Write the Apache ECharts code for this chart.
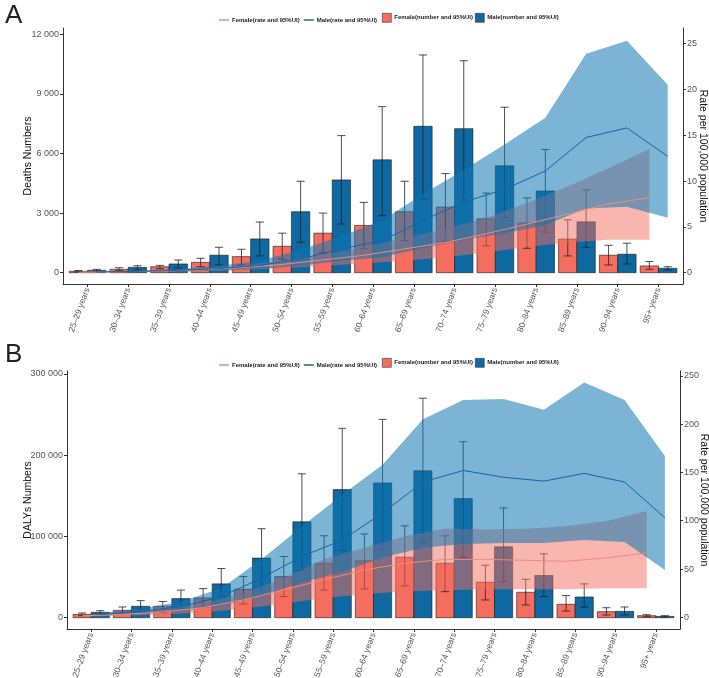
<!DOCTYPE html>
<html>
<head>
<meta charset="utf-8">
<script src="https://cdn.jsdelivr.net/npm/echarts@6/dist/echarts.min.js"></script>
<style>
  html, body { margin: 0; padding: 0; background: #fff; }
  #chart { width: 709px; height: 678px; }
</style>
</head>
<body>
<div id="chart"></div>
<script>
// age groups (x categories)
const ages = ['25–29 years', '30–34 years', '35–39 years', '40–44 years', '45–49 years',
  '50–54 years', '55–59 years', '60–64 years', '65–69 years', '70–74 years',
  '75–79 years', '80–84 years', '85–89 years', '90–94 years', '95+ years'];

// panel A: deaths numbers with 95% UI
const deathsF   = [70, 170, 300, 520, 810, 1330, 1990, 2380, 3070, 3300, 2715, 2500, 1690, 880, 340];
const deathsFLo = [40, 100, 200, 300, 390, 675, 980, 1210, 1620, 1585, 1350, 1230, 845, 390, 170];
const deathsFHi = [110, 250, 370, 725, 1180, 1990, 3000, 3540, 4600, 4990, 4010, 3760, 2660, 1380, 560];
const deathsM   = [120, 270, 440, 880, 1700, 3070, 4670, 5680, 7370, 7250, 5380, 4115, 2560, 930, 220];
const deathsMLo = [70, 135, 235, 390, 845, 1535, 2450, 2870, 3710, 3660, 2780, 2040, 1280, 440, 135];
const deathsMHi = [170, 350, 640, 1280, 2550, 4600, 6900, 8360, 10960, 10670, 8330, 6200, 4165, 1485, 300];

// panel A: death rate per 100,000 with 95% UI
const deathRateF   = [0.05, 0.1, 0.17, 0.3, 0.55, 0.9, 1.4, 1.9, 2.6, 3.3, 4.25, 5.3, 6.4, 7.5, 8.2];
const deathRateFLo = [0.03, 0.06, 0.1, 0.17, 0.3, 0.5, 0.75, 1.0, 1.3, 1.7, 2.2, 2.8, 3.3, 3.6, 3.6];
const deathRateFHi = [0.08, 0.15, 0.25, 0.45, 0.8, 1.3, 2.0, 2.8, 3.8, 4.8, 6.0, 7.6, 9.4, 11.4, 13.5];
const deathRateM   = [0.08, 0.15, 0.25, 0.45, 0.8, 1.5, 2.6, 3.5, 5.7, 7.7, 9.1, 11.1, 14.75, 15.8, 12.7];
const deathRateMLo = [0.05, 0.08, 0.13, 0.22, 0.4, 0.75, 1.3, 1.7, 2.7, 3.6, 4.3, 5.2, 7.0, 7.2, 6.0];
const deathRateMHi = [0.12, 0.25, 0.4, 0.75, 1.3, 2.5, 4.0, 5.7, 8.6, 11.2, 14.0, 16.9, 23.9, 25.3, 20.5];

// panel B: DALYs numbers with 95% UI
const dalyF   = [4100, 9000, 14000, 24300, 35000, 50600, 67000, 70000, 74500, 67000, 43600, 31300, 16500, 7400, 2500];
const dalyFLo = [2500, 4500, 6200, 12800, 16900, 26000, 34000, 35400, 39000, 32000, 21800, 15600, 8200, 3300, 1200];
const dalyFHi = [5800, 13200, 20000, 35800, 50600, 75300, 100800, 103000, 113000, 100800, 64600, 47300, 27200, 12300, 3700];
const dalyM   = [6600, 14000, 23500, 41600, 73300, 118000, 157600, 165800, 180700, 146500, 87200, 51900, 25500, 7800, 1600];
const dalyMLo = [4100, 6200, 11500, 26000, 33300, 58000, 82700, 82700, 91800, 74000, 44400, 26000, 12800, 3300, 800];
const dalyMHi = [8600, 21000, 34000, 60500, 109500, 177000, 233000, 244000, 270000, 216500, 135000, 78600, 41600, 13200, 2500];

// panel B: DALY rate per 100,000 with 95% UI
const dalyRateF   = [1.5, 3, 5.5, 10, 18, 28.5, 39, 49, 56, 60, 60, 59, 58, 61.5, 66.7];
const dalyRateFLo = [0.8, 1.5, 2.8, 5, 9, 14, 20, 24, 27, 28, 29, 29, 29, 30, 30];
const dalyRateFHi = [2.2, 4.5, 8, 14.6, 25, 40.6, 60, 72, 84, 91.7, 91, 91.7, 94.4, 99.6, 110];
const dalyRateM   = [3, 6, 11, 21.5, 40.6, 63, 80, 108, 140, 152, 145, 141, 149, 140, 103];
const dalyRateMLo = [1.8, 3.5, 6.5, 12, 22, 36, 47, 62, 72, 76, 77, 77, 80, 78, 49];
const dalyRateMHi = [4.5, 9, 16, 30, 60, 94, 127, 158, 205, 225, 226, 215, 243, 225, 167];

const leftTicksA = [0, 3000, 6000, 9000, 12000];
const rightTicksA = [0, 5, 10, 15, 20, 25];
const leftTicksB = [0, 100000, 200000, 300000];
const rightTicksB = [0, 50, 100, 150, 200, 250];

const C_F = '#F46D5E', C_M = '#0E69A2';
const BAND_F = 'rgba(244,109,94,0.5)', BAND_M = 'rgba(14,118,178,0.55)';
const LINE_F = '#F08A80', LINE_M = '#1A63A0';
const NAME_FR = 'Female(rate and 95%UI)', NAME_MR = 'Male(rate and 95%UI)';
const NAME_FN = 'Female(number and 95%UI)', NAME_MN = 'Male(number and 95%UI)';
const D = 0.225; // half of dodge offset
const idx = ages.map((_, i) => i);
const FONT = 'Liberation Sans, Arial, sans-serif';

const spaced = v => String(v).replace(/\B(?=(\d{3})+(?!\d))/g, ' ');

function barSeries(name, vals, lo, hi, side, color, g) {
  return {
    name, type: 'custom', xAxisIndex: g, yAxisIndex: g * 2, z: 2,
    itemStyle: { color },
    encode: { x: 0, y: [1, 2, 3] },
    data: vals.map((v, i) => [i, v, lo[i], hi[i]]),
    renderItem(params, api) {
      const c = api.value(0) + side * D;
      const top = api.coord([c - D, api.value(1)]);
      const bot = api.coord([c + D, 0]);
      const xc = api.coord([c, 0])[0];
      const yLo = api.coord([c, api.value(2)])[1];
      const yHi = api.coord([c, api.value(3)])[1];
      const cap = api.size([0.1, 0])[0];
      const ls = { stroke: '#222', lineWidth: 0.8 };
      return {
        type: 'group',
        children: [
          { type: 'rect', shape: { x: top[0], y: top[1], width: bot[0] - top[0], height: bot[1] - top[1] },
            style: { fill: color, stroke: '#1a1a1a', lineWidth: 0.6 } },
          { type: 'line', shape: { x1: xc, y1: yLo, x2: xc, y2: yHi }, style: ls },
          { type: 'line', shape: { x1: xc - cap, y1: yLo, x2: xc + cap, y2: yLo }, style: ls },
          { type: 'line', shape: { x1: xc - cap, y1: yHi, x2: xc + cap, y2: yHi }, style: ls }
        ]
      };
    }
  };
}

function rateLine(name, vals, side, color, g) {
  return {
    name, type: 'line', xAxisIndex: g, yAxisIndex: g * 2 + 1, z: 5,
    symbol: 'none', lineStyle: { color, width: 1 }, itemStyle: { color },
    data: vals.map((v, i) => [i + side * D, v])
  };
}

// uncertainty ribbon drawn as one polygon through the axis scales
function band(name, lo, hi, side, color, z, g) {
  const xs = lo.map((_, i) => i + side * D);
  return {
    name, type: 'custom', xAxisIndex: g, yAxisIndex: g * 2 + 1, z,
    encode: { x: 0, y: [1, 2] },
    data: xs.map((x, i) => [x, lo[i], hi[i]]),
    renderItem(params, api) {
      if (params.dataIndex !== 0) return null;
      const pts = [];
      for (let i = 0; i < xs.length; i++) pts.push(api.coord([xs[i], hi[i]]));
      for (let i = xs.length - 1; i >= 0; i--) pts.push(api.coord([xs[i], lo[i]]));
      return { type: 'polygon', shape: { points: pts }, style: { fill: color } };
    }
  };
}

function xAxis(g) {
  return {
    type: 'value', gridIndex: g, min: -0.6, max: 14.6,
    axisLine: { show: true, onZero: false, lineStyle: { color: '#333', width: 1 } },
    axisTick: { show: true, customValues: idx, length: 3, lineStyle: { color: '#333' } },
    axisLabel: { customValues: idx, formatter: v => ages[v], rotate: 70, fontSize: 8.5,
      color: '#555', margin: 4, fontFamily: FONT },
    splitLine: { show: false }
  };
}

function yAxis(g, pos, min, max, ticks, name, gap) {
  return {
    type: 'value', gridIndex: g, position: pos, min, max,
    name, nameLocation: 'middle', nameGap: gap, nameRotate: pos === 'left' ? 90 : -90,
    nameMoveOverlap: false,
    nameTextStyle: { fontSize: 10.5, color: '#111', fontFamily: FONT },
    axisLine: { show: true, onZero: false, lineStyle: { color: '#333', width: 1 } },
    axisTick: { show: true, customValues: ticks, length: 3, lineStyle: { color: '#333' } },
    axisLabel: { customValues: ticks, formatter: spaced, fontSize: 9, color: '#555', margin: 4,
      fontFamily: FONT },
    splitLine: { show: false }
  };
}

function legends(top) {
  const text = { fontSize: 6, fontWeight: 'bold', color: '#222',
    fontFamily: 'Liberation Sans Narrow, Arial Narrow, Liberation Sans, sans-serif', padding: [0, 0, 0, -2] };
  return [
    { left: 214, top: top + 4, itemWidth: 10, itemHeight: 1.5, itemGap: 4, textStyle: text,
      icon: 'rect', data: [NAME_FR, NAME_MR] },
    { left: 377, top, itemWidth: 9, itemHeight: 9, itemGap: 2, textStyle: text,
      data: [
        { name: NAME_FN, icon: 'rect', itemStyle: { borderColor: '#333', borderWidth: 0.6 } },
        { name: NAME_MN, icon: 'rect', itemStyle: { borderColor: '#333', borderWidth: 0.6 } }
      ] }
  ];
}

const chart = echarts.init(document.getElementById('chart'));

const option = {
  animation: false,
  backgroundColor: '#fff',
  title: [
    { text: 'A', left: 0, top: -2, textStyle: { fontSize: 26, fontWeight: 'normal', color: '#222' } },
    { text: 'B', left: 0, top: 337, textStyle: { fontSize: 26, fontWeight: 'normal', color: '#222' } }
  ],
  legend: [...legends(8), ...legends(353)],
  grid: [
    { left: 63, right: 26, top: 28, bottom: 394, containLabel: false, outerBoundsMode: 'none' },
    { left: 67, right: 29, top: 371, bottom: 49, containLabel: false, outerBoundsMode: 'none' }
  ],
  xAxis: [xAxis(0), xAxis(1)],
  yAxis: [
    yAxis(0, 'left', -569, 12317, leftTicksA, 'Deaths Numbers', 29),
    yAxis(0, 'right', -1.23, 26.7, rightTicksA, 'Rate per 100,000 population', 14),
    yAxis(1, 'left', -13900, 303500, leftTicksB, 'DALYs Numbers', 33),
    yAxis(1, 'right', -12.1, 255, rightTicksB, 'Rate per 100,000 population', 18)
  ],
  series: [
    barSeries(NAME_FN, deathsF, deathsFLo, deathsFHi, -1, C_F, 0),
    barSeries(NAME_MN, deathsM, deathsMLo, deathsMHi, 1, C_M, 0),
    band('bandFA', deathRateFLo, deathRateFHi, -1, BAND_F, 3, 0),
    band('bandMA', deathRateMLo, deathRateMHi, 1, BAND_M, 4, 0),
    rateLine(NAME_FR, deathRateF, -1, LINE_F, 0),
    rateLine(NAME_MR, deathRateM, 1, LINE_M, 0),

    barSeries(NAME_FN, dalyF, dalyFLo, dalyFHi, -1, C_F, 1),
    barSeries(NAME_MN, dalyM, dalyMLo, dalyMHi, 1, C_M, 1),
    band('bandFB', dalyRateFLo, dalyRateFHi, -1, BAND_F, 3, 1),
    band('bandMB', dalyRateMLo, dalyRateMHi, 1, BAND_M, 4, 1),
    rateLine(NAME_FR, dalyRateF, -1, LINE_F, 1),
    rateLine(NAME_MR, dalyRateM, 1, LINE_M, 1)
  ]
};

chart.setOption(option);
</script>
</body>
</html>
